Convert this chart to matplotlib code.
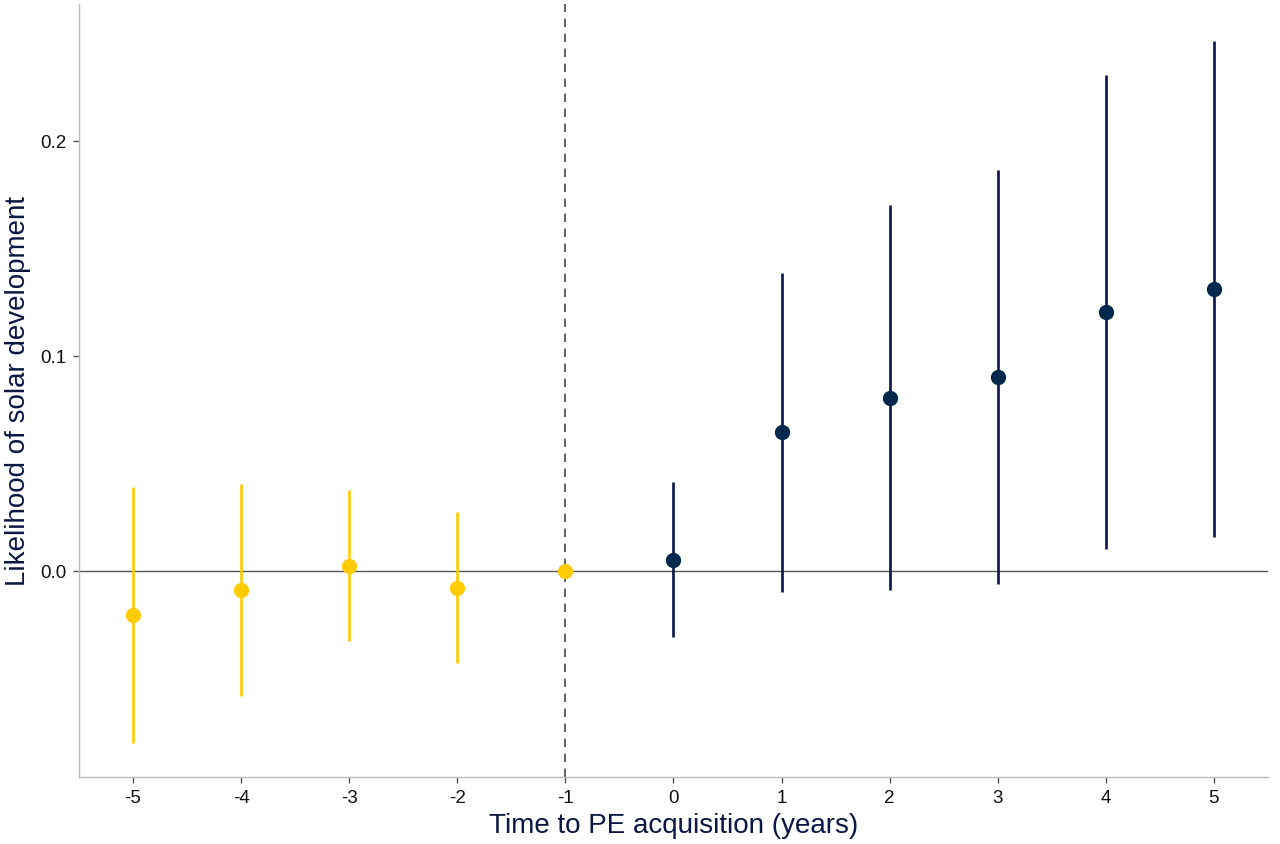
import matplotlib
matplotlib.use("Agg")
import matplotlib.pyplot as plt

plt.rcParams['font.family'] = ['Liberation Sans', 'DejaVu Sans']

years = [-5, -4, -3, -2, -1, 0, 1, 2, 3, 4, 5]
estimate = [-0.0205, -0.0088, 0.0023, -0.0079, 0.0, 0.0051, 0.0647, 0.0805, 0.0902, 0.1205, 0.1312]
ci_low = [-0.0800, -0.0580, -0.0326, -0.0428, 0.0, -0.0307, -0.0098, -0.0088, -0.0060, 0.0102, 0.0158]
ci_high = [0.0390, 0.0405, 0.0377, 0.0274, 0.0, 0.0414, 0.1386, 0.1700, 0.1865, 0.2307, 0.2465]
y_ticks = [0.0, 0.1, 0.2]
y_tick_labels = ["0.0", "0.1", "0.2"]

maize = "#FFCB05"
blue_pt = "#00274C"
blue_ln = "#0A1744"

fig = plt.figure(figsize=(12.8, 8.45), dpi=100)
ax = fig.add_axes([0.0617, 0.0793, 0.9289, 0.9148])

ax.axhline(0, color="#555555", lw=1.0, zorder=1)
ax.axvline(-1, color="#444444", lw=1.2, ls=(0, (5, 4)), zorder=1)

for x, e, lo, hi in zip(years, estimate, ci_low, ci_high):
    pre = x < 0
    lc = maize if pre else blue_ln
    pc = maize if pre else blue_pt
    if hi != lo:
        ax.plot([x, x], [lo, hi], color=lc, lw=1.9, solid_capstyle='butt', zorder=2)
    ax.plot([x], [e], 'o', color=pc, markersize=10, zorder=3)

ax.set_xlim(-5.5, 5.5)
ax.set_ylim(-0.0958, 0.2637)
ax.set_xticks(years)
ax.set_xticklabels([str(v) for v in years])
ax.set_yticks(y_ticks)
ax.set_yticklabels(y_tick_labels)

for s in ["top", "right"]:
    ax.spines[s].set_visible(False)
for s in ["left", "bottom"]:
    ax.spines[s].set_color("#BBBBBB")
    ax.spines[s].set_linewidth(1.0)
ax.tick_params(axis="both", colors="#555555", length=4, width=1, labelsize=13.5, labelcolor="#111111", pad=5)

ax.set_xlabel("Time to PE acquisition (years)", fontsize=20, color="#0A1744", labelpad=4)
ax.set_ylabel("Likelihood of solar development", fontsize=20, color="#0A1744", labelpad=7)

fig.savefig("out.png", dpi=100)
